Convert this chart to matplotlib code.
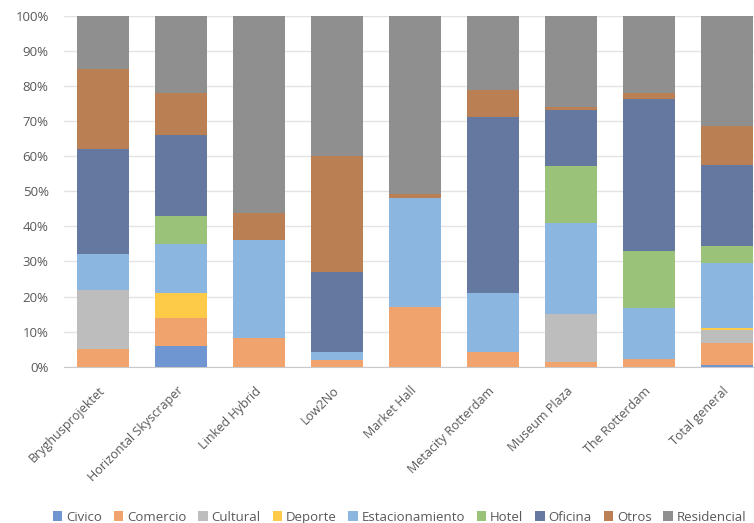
import matplotlib
matplotlib.use("Agg")
import matplotlib.pyplot as plt
import numpy as np

plt.rcParams['font.family'] = ['Open Sans', 'DejaVu Sans']

projects = ["Bryghusprojektet", "Horizontal Skyscraper", "Linked Hybrid", "Low2No",
            "Market Hall", "Metacity Rotterdam", "Museum Plaza", "The Rotterdam",
            "Total general"]

# share of each use per project, in %
civico = [0, 6, 0, 0, 0, 0, 0, 0, 0.5]
comercio = [5, 8, 8.2, 2, 17, 4.2, 1.2, 2.2, 6.2]
cultural = [17, 0, 0, 0, 0, 0, 13.8, 0, 3.8]
deporte = [0, 7, 0, 0, 0, 0, 0, 0, 0.6]
estacionamiento = [10, 14, 27.8, 2.1, 31, 16.9, 26.1, 14.6, 18.4]
hotel = [0, 8, 0, 0, 0, 0, 16, 16.1, 4.8]
oficina = [30, 23, 0, 23, 0, 50.2, 16, 43.3, 23.1]
otros = [23, 12, 7.8, 33, 1.2, 7.6, 1, 1.8, 11.2]
residencial = [15, 22, 56.2, 39.9, 50.8, 21.1, 25.9, 22, 31.4]

series = [("Civico", civico, "#7096d1"),
          ("Comercio", comercio, "#f0a36d"),
          ("Cultural", cultural, "#bdbdbd"),
          ("Deporte", deporte, "#fdcb47"),
          ("Estacionamiento", estacionamiento, "#8ab6e0"),
          ("Hotel", hotel, "#9bc279"),
          ("Oficina", oficina, "#6579a0"),
          ("Otros", otros, "#ba7f52"),
          ("Residencial", residencial, "#8f8f8f")]

fig = plt.figure(figsize=(7.54, 5.23), dpi=100)
ax = fig.add_axes([64 / 754, 156.3 / 523, 702 / 754, 350.7 / 523])

x = np.arange(len(projects))
bottom = np.zeros(len(projects))
for name, vals, col in series:
    ax.bar(x, vals, 0.655, bottom=bottom, color=col, label=name, zorder=3)
    bottom += np.array(vals)

ax.set_xlim(-0.5, len(projects) - 0.5)
ax.set_ylim(0, 100)
ax.set_yticks(np.arange(0, 101, 10))
ax.set_yticklabels([f"{v}%" for v in range(0, 101, 10)])
ax.yaxis.grid(True, color="#e3e3e3", linewidth=1, zorder=0)
for s in ["top", "right", "left"]:
    ax.spines[s].set_visible(False)
ax.spines["bottom"].set_color("#c8c8c8")
ax.tick_params(axis="both", length=0, colors="#595959", labelsize=9.5)
ax.tick_params(axis="y", pad=11)
ax.set_xticks(x)
ax.set_xticklabels(projects, rotation=45, ha="right", va="center",
                   rotation_mode="anchor", fontsize=9)
ax.tick_params(axis="x", pad=16)

fig.legend(loc="lower center", bbox_to_anchor=(0.53, -0.024), ncol=9, frameon=False,
           fontsize=9.5, handlelength=0.7, handleheight=0.7, handletextpad=0.3,
           columnspacing=0.9, labelcolor="#595959")

fig.savefig("out.png", dpi=100)
